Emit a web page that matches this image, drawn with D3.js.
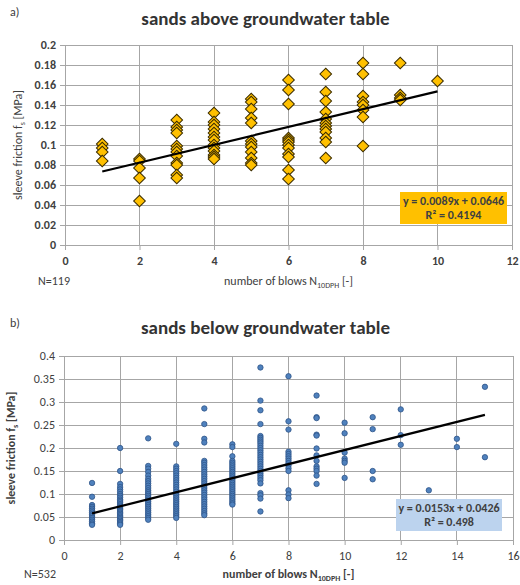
<!DOCTYPE html>
<html>
<head>
<meta charset="utf-8">
<script src="https://cdn.jsdelivr.net/npm/d3@7/dist/d3.min.js"></script>
<style>
  html, body { margin: 0; padding: 0; background: #fff; }
  svg { display: block; font-family: Carlito, Lato, "Open Sans", sans-serif; }
</style>
</head>
<body>
<div id="chart"></div>
<script>
// a) sands above groundwater table: blow counts and sleeve friction values (MPa) per blow count
const ABOVE_N = [1, 2, 3, 4, 5, 6, 7, 8, 9, 10];
const ABOVE_FS = [
  [0.101, 0.097, 0.093, 0.084],
  [0.086, 0.084, 0.077, 0.067, 0.044],
  [0.125, 0.118, 0.115, 0.112, 0.099, 0.096, 0.093, 0.089, 0.082, 0.080, 0.070, 0.067],
  [0.132, 0.123, 0.120, 0.116, 0.112, 0.108, 0.105, 0.100, 0.097, 0.094, 0.090, 0.088, 0.086],
  [0.146, 0.143, 0.136, 0.127, 0.122, 0.104, 0.101, 0.098, 0.093, 0.087, 0.082, 0.080],
  [0.165, 0.155, 0.141, 0.107, 0.105, 0.103, 0.100, 0.097, 0.091, 0.088, 0.075, 0.066],
  [0.171, 0.153, 0.144, 0.133, 0.126, 0.122, 0.119, 0.116, 0.113, 0.107, 0.103, 0.087],
  [0.182, 0.171, 0.149, 0.143, 0.140, 0.135, 0.128, 0.099],
  [0.182, 0.150, 0.147, 0.145],
  [0.164]
];
const ABOVE_FIT = [0.0089, 0.0646];   // slope, intercept
const ABOVE_FIT_RANGE = [1, 10];
const ABOVE_X_TICKS = [0, 2, 4, 6, 8, 10, 12];
const ABOVE_Y_TICKS = [0, 0.02, 0.04, 0.06, 0.08, 0.1, 0.12, 0.14, 0.16, 0.18, 0.2];

// b) sands below groundwater table
const BELOW_N = [1, 2, 3, 4, 5, 6, 7, 8, 9, 10, 11, 12, 13, 14, 15];
const BELOW_FS = [
  [0.124, 0.094, 0.076, 0.072, 0.068, 0.064, 0.060, 0.056, 0.052, 0.048, 0.044, 0.040, 0.036, 0.033],
  [0.200, 0.150, 0.122, 0.115, 0.110, 0.105, 0.100, 0.096, 0.092, 0.088, 0.085, 0.082, 0.078, 0.075,
   0.072, 0.069, 0.066, 0.063, 0.060, 0.057, 0.054, 0.051, 0.048, 0.045, 0.042, 0.039, 0.036, 0.033],
  [0.221, 0.161, 0.155, 0.148, 0.140, 0.133, 0.128, 0.123, 0.118, 0.113, 0.108, 0.104, 0.100, 0.096,
   0.092, 0.088, 0.084, 0.080, 0.076, 0.072, 0.068, 0.064, 0.060, 0.056, 0.052, 0.048, 0.044],
  [0.209, 0.160, 0.155, 0.150, 0.145, 0.140, 0.135, 0.130, 0.125, 0.120, 0.115, 0.110, 0.105, 0.100,
   0.096, 0.092, 0.088, 0.084, 0.080, 0.076, 0.072, 0.068, 0.064, 0.060, 0.056, 0.052, 0.048],
  [0.286, 0.252, 0.220, 0.212, 0.172, 0.168, 0.163, 0.158, 0.153, 0.148, 0.143, 0.138, 0.133, 0.128,
   0.123, 0.118, 0.113, 0.108, 0.103, 0.098, 0.093, 0.088, 0.083, 0.078, 0.073, 0.068, 0.063, 0.058, 0.054],
  [0.208, 0.202, 0.182, 0.172, 0.168, 0.164, 0.160, 0.156, 0.152, 0.148, 0.144, 0.140, 0.136, 0.132,
   0.128, 0.124, 0.120, 0.116, 0.112, 0.108, 0.104, 0.100, 0.096, 0.092, 0.088, 0.084, 0.080, 0.077],
  [0.375, 0.303, 0.282, 0.252, 0.226, 0.222, 0.218, 0.214, 0.210, 0.205, 0.200, 0.195, 0.190, 0.185,
   0.180, 0.175, 0.170, 0.165, 0.160, 0.155, 0.150, 0.145, 0.140, 0.135, 0.130, 0.123, 0.102, 0.097, 0.090, 0.062],
  [0.356, 0.258, 0.240, 0.192, 0.187, 0.182, 0.177, 0.172, 0.167, 0.162, 0.156, 0.150, 0.108, 0.099, 0.091],
  [0.314, 0.267, 0.265, 0.229, 0.227, 0.199, 0.184, 0.172, 0.160, 0.155, 0.150, 0.140, 0.122],
  [0.255, 0.232, 0.190, 0.177, 0.172, 0.168, 0.135],
  [0.267, 0.241, 0.150, 0.132],
  [0.284, 0.228, 0.207],
  [0.108],
  [0.220, 0.202],
  [0.333, 0.180]
];
const BELOW_FIT = [0.0153, 0.0426];
const BELOW_FIT_RANGE = [1, 15];
const BELOW_X_TICKS = [0, 2, 4, 6, 8, 10, 12, 14, 16];
const BELOW_Y_TICKS = [0, 0.05, 0.1, 0.15, 0.2, 0.25, 0.3, 0.35, 0.4];

const W = 520, H = 585;
const GRID = "#a6a6a6", TXT = "#404040";

const svg = d3.select("#chart").append("svg").attr("width", W).attr("height", H);

function fmt(v) { return String(+v.toFixed(3)); }

function panel(o) {
  const g = svg.append("g");
  const pts = [];
  o.n.forEach((n, i) => o.fs[i].forEach(v => pts.push({ x: n, y: v })));

  const x = d3.scaleLinear().domain([0, o.xTicks[o.xTicks.length - 1]]).range([o.box.l, o.box.r]);
  const y = d3.scaleLinear().domain([0, o.yTicks[o.yTicks.length - 1]]).range([o.box.b, o.box.t]);

  // panel letter + title
  g.append("text").attr("x", 10).attr("y", o.letterY).attr("font-size", 12).attr("fill", TXT).text(o.letter);
  g.append("text").attr("x", (o.box.l + o.box.r) / 2 - 23).attr("y", o.titleY).attr("text-anchor", "middle")
    .attr("font-size", 19).attr("font-weight", "bold").attr("fill", "#333").text(o.title);

  // grid
  g.selectAll(".hg").data(o.yTicks).join("line")
    .attr("x1", o.box.l).attr("x2", o.box.r).attr("y1", d => y(d)).attr("y2", d => y(d))
    .attr("stroke", GRID).attr("stroke-width", 1).attr("shape-rendering", "crispEdges");
  g.selectAll(".vg").data(o.xTicks).join("line")
    .attr("x1", d => x(d)).attr("x2", d => x(d)).attr("y1", o.box.t).attr("y2", o.box.b)
    .attr("stroke", GRID).attr("stroke-width", 1).attr("shape-rendering", "crispEdges");

  // axes
  const ya = g.append("g").attr("transform", `translate(${o.box.l},0)`)
    .call(d3.axisLeft(y).tickValues(o.yTicks).tickFormat(fmt).tickSize(5).tickPadding(4));
  const xa = g.append("g").attr("transform", `translate(0,${o.box.b})`)
    .call(d3.axisBottom(x).tickValues(o.xTicks).tickFormat(d3.format("d")).tickSize(5).tickPadding(6));
  [ya, xa].forEach(a => {
    a.select(".domain").attr("stroke", GRID);
    a.selectAll(".tick line").attr("stroke", GRID);
    a.selectAll("text").attr("fill", TXT).attr("font-size", 12)
      .attr("font-family", "Carlito, Lato, sans-serif")
      .attr("font-weight", o.boldTicks ? "bold" : "normal");
  });

  // axis titles
  const yt = g.append("text").attr("transform", `translate(${o.yTitleX},${(o.box.t + o.box.b) / 2}) rotate(-90)`)
    .attr("text-anchor", "middle").attr("font-size", 12).attr("fill", TXT)
    .attr("font-weight", o.boldTitles ? "bold" : "normal");
  yt.append("tspan").text("sleeve friction f");
  yt.append("tspan").attr("font-size", 8).attr("dy", 3).text("s");
  yt.append("tspan").attr("dy", -3).text(" [MPa]");

  const xt = g.append("text").attr("x", (o.box.l + o.box.r) / 2).attr("y", o.xTitleY)
    .attr("text-anchor", "middle").attr("font-size", 12).attr("fill", TXT)
    .attr("font-weight", o.boldTitles ? "bold" : "normal");
  xt.append("tspan").text("number of blows N");
  xt.append("tspan").attr("font-size", 8).attr("dy", 3).text("10DPH");
  xt.append("tspan").attr("dy", -3).text(" [-]");

  g.append("text").attr("x", o.nX).attr("y", o.xTitleY).attr("font-size", 12).attr("fill", TXT).text(o.nLabel);

  // points
  if (o.marker === "diamond") {
    const sym = d3.symbol(d3.symbolSquare, 68)();
    g.selectAll(".pt").data(pts).join("path")
      .attr("d", sym)
      .attr("transform", d => `translate(${x(d.x)},${y(d.y)}) rotate(45)`)
      .attr("fill", "#ffc000").attr("stroke", "#3b2c00").attr("stroke-width", 1);
  } else {
    g.selectAll(".pt").data(pts).join("circle")
      .attr("cx", d => x(d.x)).attr("cy", d => y(d.y)).attr("r", 2.7)
      .attr("fill", "#4f81bd").attr("stroke", "#2f5488").attr("stroke-width", 0.8);
  }

  // linear trend line
  const [k, c] = o.fit;
  g.append("line")
    .attr("x1", x(o.fitRange[0])).attr("y1", y(k * o.fitRange[0] + c))
    .attr("x2", x(o.fitRange[1])).attr("y2", y(k * o.fitRange[1] + c))
    .attr("stroke", "#000").attr("stroke-width", 2.2);

  // equation box
  const lb = o.eqBox;
  g.append("rect").attr("x", lb.x).attr("y", lb.y).attr("width", lb.w).attr("height", lb.h).attr("fill", o.eqFill);
  g.append("text").attr("x", lb.x + lb.w / 2).attr("y", lb.y + 13).attr("text-anchor", "middle")
    .attr("font-size", 12).attr("font-weight", "bold").attr("fill", TXT)
    .text(`y = ${k}x + ${c}`);
  g.append("text").attr("x", lb.x + lb.w / 2).attr("y", lb.y + 27).attr("text-anchor", "middle")
    .attr("font-size", 12).attr("font-weight", "bold").attr("fill", TXT)
    .text(`R² = ${o.r2}`);
}

panel({
  letter: "a)", letterY: 16, title: "sands above groundwater table", titleY: 25,
  box: { l: 65, r: 512, t: 45, b: 245 },
  n: ABOVE_N, fs: ABOVE_FS, fit: ABOVE_FIT, fitRange: ABOVE_FIT_RANGE, r2: "0.4194",
  xTicks: ABOVE_X_TICKS, yTicks: ABOVE_Y_TICKS, boldTicks: true, boldTitles: false,
  yTitleX: 22, xTitleY: 285, nX: 38, nLabel: "N=119",
  marker: "diamond", eqFill: "#ffc000", eqBox: { x: 400, y: 192, w: 107, h: 32 }
});

panel({
  letter: "b)", letterY: 327, title: "sands below groundwater table", titleY: 334,
  box: { l: 64, r: 513, t: 356, b: 540 },
  n: BELOW_N, fs: BELOW_FS, fit: BELOW_FIT, fitRange: BELOW_FIT_RANGE, r2: "0.498",
  xTicks: BELOW_X_TICKS, yTicks: BELOW_Y_TICKS, boldTicks: false, boldTitles: true,
  yTitleX: 15, xTitleY: 578, nX: 24, nLabel: "N=532",
  marker: "circle", eqFill: "#bcd3ee", eqBox: { x: 396, y: 499, w: 106, h: 32 }
});
</script>
</body>
</html>
